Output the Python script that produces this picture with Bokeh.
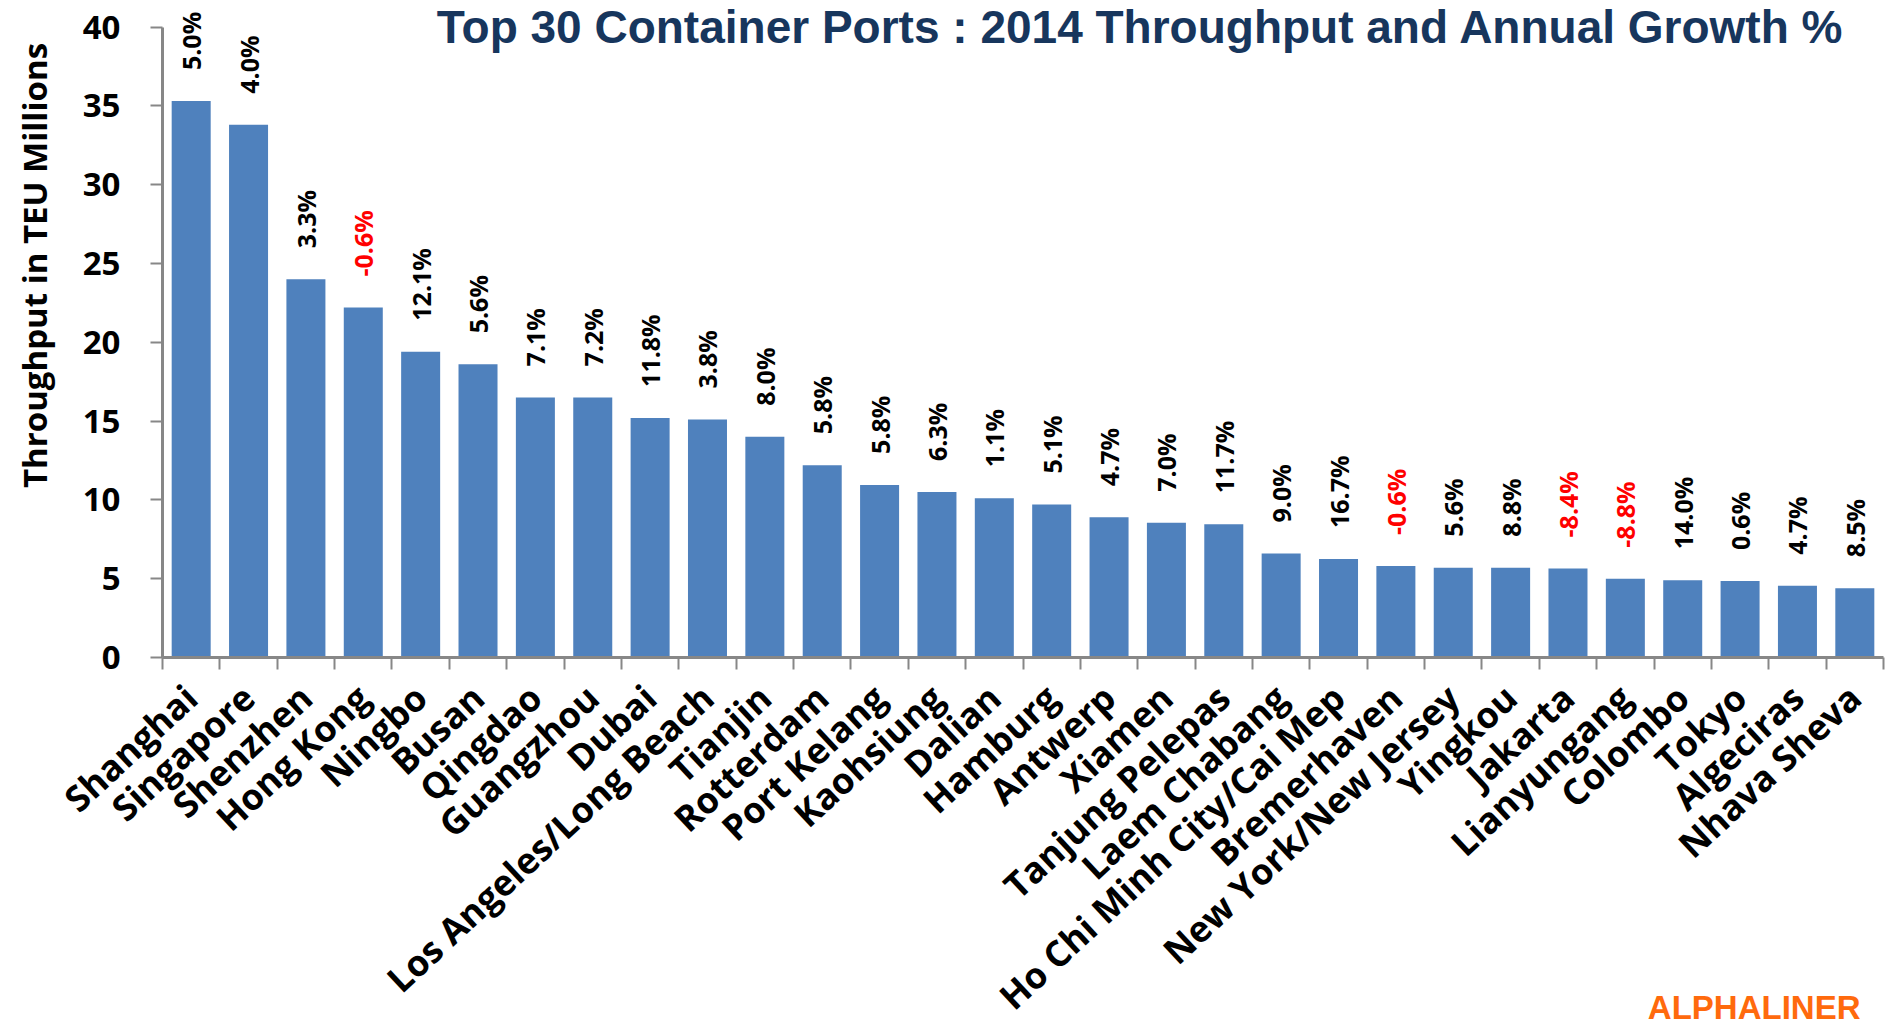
import math
from bokeh.plotting import figure
from bokeh.models import ColumnDataSource, FixedTicker, Label, Range1d
from bokeh.core.properties import value
from bokeh.embed import file_html
from bokeh.resources import INLINE

ports = ["Shanghai", "Singapore", "Shenzhen", "Hong Kong", "Ningbo", "Busan", "Qingdao",
         "Guangzhou", "Dubai", "Los Angeles/Long Beach", "Tianjin", "Rotterdam", "Port Kelang",
         "Kaohsiung", "Dalian", "Hamburg", "Antwerp", "Xiamen", "Tanjung Pelepas", "Laem Chabang",
         "Ho Chi Minh City/Cai Mep", "Bremerhaven", "New York/New Jersey", "Yingkou", "Jakarta",
         "Lianyungang", "Colombo", "Tokyo", "Algeciras", "Nhava Sheva"]
teu_millions = [35.3, 33.8, 24.0, 22.2, 19.4, 18.6, 16.5, 16.5, 15.2, 15.1, 14.0, 12.2, 10.95,
                10.5, 10.1, 9.7, 8.9, 8.55, 8.45, 6.6, 6.25, 5.8, 5.7, 5.7, 5.65, 5.0, 4.9,
                4.85, 4.55, 4.4]
growth_pct = [5.0, 4.0, 3.3, -0.6, 12.1, 5.6, 7.1, 7.2, 11.8, 3.8, 8.0, 5.8, 5.8, 6.3, 1.1,
              5.1, 4.7, 7.0, 11.7, 9.0, 16.7, -0.6, 5.6, 8.8, -8.4, -8.8, 14.0, 0.6, 4.7, 8.5]
y_ticks = [0, 5, 10, 15, 20, 25, 30, 35, 40]
y_max = 40

TITLE = "Top 30 Container Ports : 2014 Throughput and Annual Growth %"
YLABEL = "Throughput in TEU Millions"
CREDIT = "ALPHALINER"
FONT = "Open Sans"

# canvas layout (pixels)
W, H = 1887, 1027
left_px, right_px = 162, 4          # plot area edges
zero_px, top_px = 657, 26.5         # y = 0 and y = 40 positions from top
n = len(ports)
px_per_cat = (W - left_px - right_px) / n
px_per_unit = (zero_px - top_px) / y_max

xs = [i + 0.5 for i in range(n)]
src = ColumnDataSource(dict(
    x=xs,
    top=teu_millions,
    label=[f"{g:.1f}%" for g in growth_pct],
    color=["#FF0000" if g < 0 else "#000000" for g in growth_pct],
))

p = figure(width=W, height=H,
           x_range=Range1d(-left_px / px_per_cat, n + right_px / px_per_cat),
           y_range=Range1d(-(H - zero_px) / px_per_unit, zero_px / px_per_unit),
           output_backend="svg", toolbar_location=None,
           min_border_left=0, min_border_right=0, min_border_top=0, min_border_bottom=0)
p.outline_line_color = None
p.xgrid.visible = False
p.ygrid.visible = False

p.vbar(x="x", top="top", width=0.68, bottom=0, source=src,
       fill_color="#4F81BD", line_color=None)

p.text(x="x", y="top", text="label", source=src, angle=math.pi / 2,
       text_align="left", text_baseline="middle", y_offset=-31,
       text_font=value(FONT), text_font_style="bold", text_font_size="25px",
       text_color="color")

axis_color = "#878787"
xa = p.xaxis[0]
xa.fixed_location = 0
xa.bounds = (0, n)
xa.ticker = FixedTicker(ticks=xs, minor_ticks=list(range(n + 1)))
xa.major_label_overrides = {x: name for x, name in zip(xs, ports)}
xa.major_label_orientation = 0.75
xa.major_tick_line_color = None
xa.major_tick_out = 12
xa.minor_tick_line_color = axis_color
xa.minor_tick_line_width = 2
xa.minor_tick_out = 12
xa.minor_tick_in = 0
xa.axis_line_color = axis_color
xa.axis_line_width = 3
xa.major_label_text_font = FONT
xa.major_label_text_font_style = "bold"
xa.major_label_text_font_size = "36px"
xa.major_label_text_color = "#000000"
xa.major_label_standoff = 22

ya = p.yaxis[0]
ya.fixed_location = 0
ya.bounds = (0, y_max)
ya.ticker = FixedTicker(ticks=y_ticks)
ya.minor_tick_line_color = None
ya.major_tick_line_color = axis_color
ya.major_tick_line_width = 2
ya.major_tick_out = 12
ya.major_tick_in = 0
ya.axis_line_color = axis_color
ya.axis_line_width = 3
ya.major_label_text_font = FONT
ya.major_label_text_font_style = "bold"
ya.major_label_text_font_size = "33px"
ya.major_label_text_color = "#000000"
ya.major_label_standoff = 30

p.add_layout(Label(x=34, y=H - 265, x_units="screen", y_units="screen", text=YLABEL,
                   angle=math.pi / 2, text_align="center", text_baseline="middle",
                   text_font=FONT, text_font_style="bold", text_font_size="33px",
                   text_color="#000000"))
p.add_layout(Label(x=1140, y=H, x_units="screen", y_units="screen", text=TITLE,
                   text_align="center", text_baseline="top",
                   text_font="Liberation Sans", text_font_style="bold", text_font_size="46px",
                   text_color="#17365D"))
p.add_layout(Label(x=1860, y=2, x_units="screen", y_units="screen", text=CREDIT,
                   text_align="right", text_baseline="bottom",
                   text_font="Liberation Sans", text_font_style="bold", text_font_size="33px",
                   text_color="#FF6A0D"))

open("out.html", "w").write(file_html(p, INLINE))
